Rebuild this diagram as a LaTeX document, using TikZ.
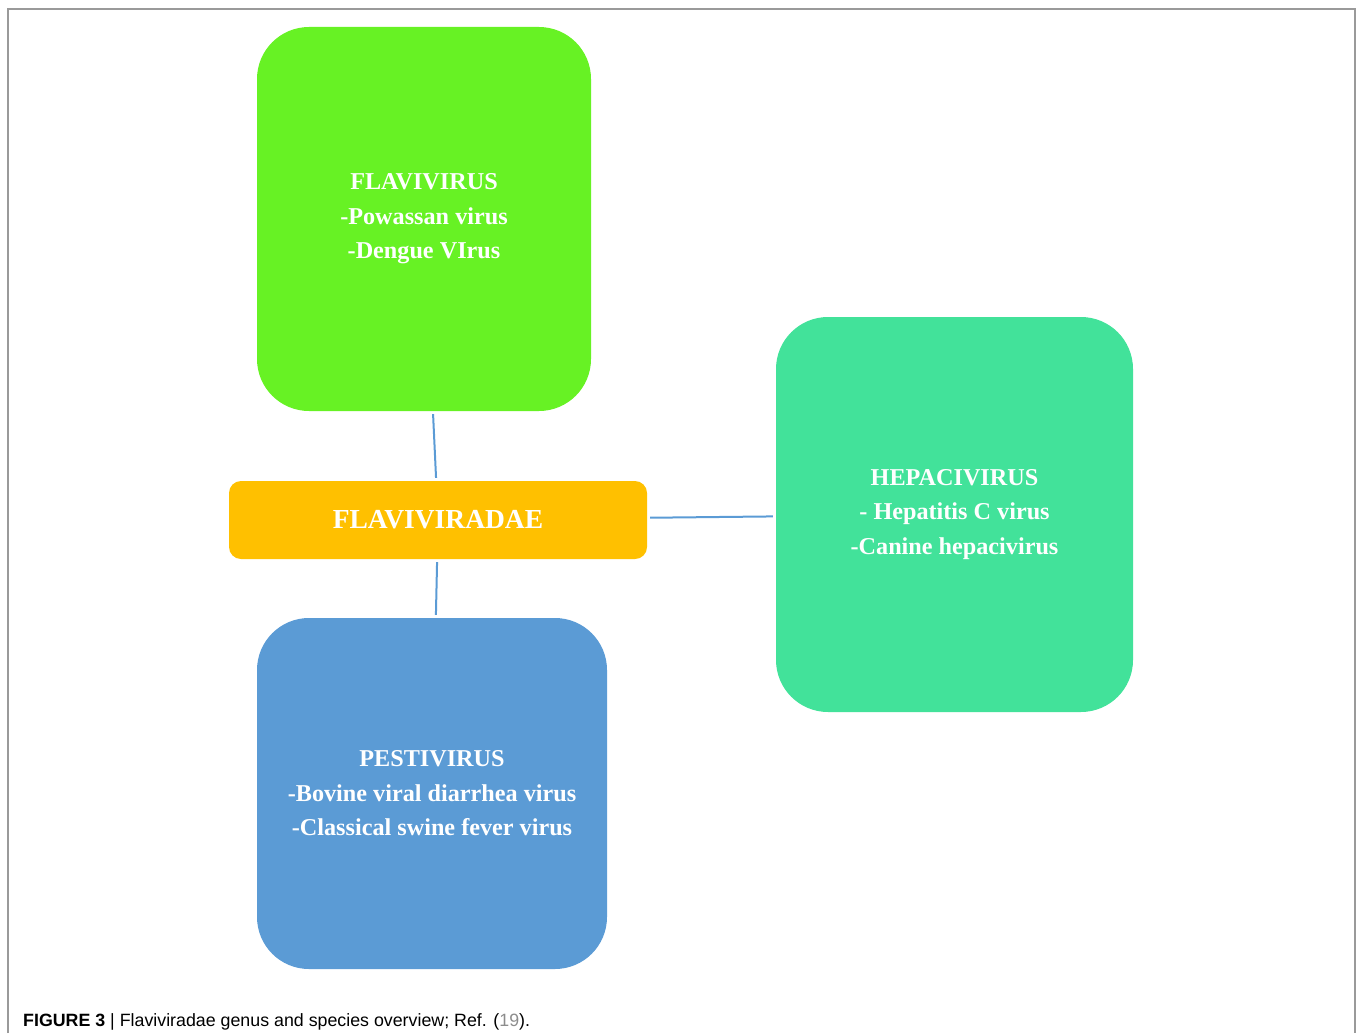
\documentclass[tikz,border=0pt]{standalone}
\usepackage{fontspec}
\setmainfont{Liberation Serif}
\newfontfamily\capfont{Liberation Sans}
\definecolor{flavigreen}{HTML}{67F224}
\definecolor{familyorange}{HTML}{FFC000}
\definecolor{hepateal}{HTML}{42E29A}
\definecolor{pestiblue}{HTML}{5B9BD5}
\definecolor{framegray}{HTML}{9A9A9A}
\definecolor{refgray}{HTML}{8C8C8C}

\begin{document}
\begin{tikzpicture}[x=1pt,y=-1pt,
	genus/.style={rectangle,rounded corners=52pt,text=white,align=center,
		font=\fontsize{24.2}{34.5}\selectfont\bfseries,inner sep=0pt},
	family/.style={rectangle,rounded corners=12pt,fill=familyorange,text=white,
		font=\fontsize{27.5}{30}\selectfont\bfseries,inner sep=0pt},
	link/.style={pestiblue,line width=2pt,shorten <=3pt,shorten >=3pt}]
	\useasboundingbox (0,0) rectangle (1359,1033);
	\draw[framegray,line width=1.5pt] (8,1033) -- (8,9) -- (1355,9) -- (1355,1033);
	\node[family,minimum width=418pt,minimum height=78pt] (fam) at (438,520) {FLAVIVIRADAE};
	\node[genus,fill=flavigreen,minimum width=334pt,minimum height=384pt] (flavi) at (424,219)
		{FLAVIVIRUS\\-Powassan virus\\-Dengue VIrus};
	\node[genus,fill=hepateal,minimum width=357pt,minimum height=395pt] (hepaci) at (954.5,514.5)
		{HEPACIVIRUS\\- Hepatitis C virus\\-Canine hepacivirus};
	\node[genus,fill=pestiblue,minimum width=350pt,minimum height=351pt] (pesti) at (432,793.5)
		{PESTIVIRUS\\-Bovine viral diarrhea virus\\-Classical swine fever virus};
	\draw[link] (flavi) -- (fam);
	\draw[link] (fam) -- (pesti);
	\draw[link] (fam) -- (hepaci);
	\node[anchor=base west,inner sep=0pt,font=\capfont\fontsize{17.8}{20}\selectfont] (caption) at (23,1026)
		{\textbf{FIGURE 3} | Flaviviradae genus and species overview; Ref. ({\color{refgray}19}).};
\end{tikzpicture}
\end{document}
